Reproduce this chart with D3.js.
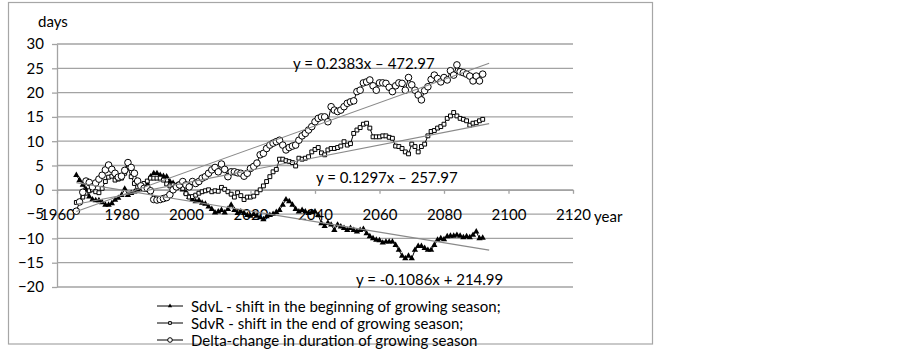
<!DOCTYPE html>
<html>
<head>
<meta charset="utf-8">
<script src="https://cdn.jsdelivr.net/npm/d3@7"></script>
<style>
  body { margin: 0; background: #fff; }
  svg { display: block; }
  text { font-family: Lato, 'Open Sans', sans-serif; font-size: 15px; fill: #000; }
</style>
</head>
<body>
<svg id="chart"></svg>
<script>
// annual values, first year 1966
const firstYear = 1966;

const sdvL = [
  3.0, 2.0, 1.0, 0.1, -1.4, -2.0, -2.2, -2.2, -2.6, -3.1,
  -3.1, -2.8, -2.1, -1.7, -1.1, 0.2, -1.1, -0.7, -0.4, 0.0,
  0.3, 0.6, 1.3, 2.7, 3.4, 3.4, 3.0, 2.8, 2.7, 1.7,
  1.4, 0.9, 0.6, 0.0, -0.6, -1.5, -2.0, -2.4, -2.2, -2.7,
  -2.9, -3.5, -4.0, -4.7, -4.5, -4.2, -4.7, -4.0, -3.1, -4.2,
  -4.8, -4.5, -4.8, -5.2, -5.4, -5.0, -5.4, -5.7, -6.1, -5.5,
  -5.2, -5.0, -4.6, -4.2, -3.1, -2.0, -2.4, -3.1, -4.0, -4.5,
  -4.2, -4.5, -4.8, -4.6, -4.5, -5.2, -6.9, -7.5, -6.8, -7.2,
  -8.3, -7.2, -7.6, -7.9, -8.3, -7.9, -8.3, -8.6, -8.3, -8.1,
  -9.0, -9.6, -10.0, -10.3, -10.4, -10.9, -10.7, -10.7, -10.7, -11.4,
  -12.4, -13.6, -14.1, -13.6, -14.1, -12.4, -11.6, -11.6, -12.0, -12.4,
  -12.4, -11.4, -10.3, -10.0, -10.2, -9.6, -9.5, -9.5, -9.3, -9.5,
  -9.8, -9.6, -9.8, -9.3, -8.6, -10.0, -9.9
];

const sdvR = [
  -2.6, -2.4, -1.5, -0.7, -0.2, 0.0, -0.4, -0.6, 0.3, 1.7,
  2.6, 2.8, 2.0, 2.2, 2.4, 3.4, 4.5, 2.7, 1.3, 0.6,
  0.6, 1.3, 1.8, 2.4, 2.4, 2.4, 2.4, 2.0, 1.2, 0.8,
  1.0, 0.6, 1.2, 0.3, -0.8, -1.5, -1.4, -1.1, -0.7, -0.4,
  -0.2, 0.0, -0.4, -0.2, -0.3, 0.5, 0.1, -0.4, -0.9, -1.5,
  -0.6, -1.2, -2.0, -1.5, -1.5, -1.3, -0.6, 0.0, 0.8, 1.7,
  2.7, 3.7, 4.2, 6.3, 6.3, 6.0, 5.8, 5.6, 4.9, 6.5,
  6.3, 6.5, 6.8, 7.8, 8.3, 8.7, 7.6, 7.2, 8.2, 8.5,
  8.5, 8.7, 9.0, 9.9, 9.2, 9.5, 11.6, 12.3, 12.8, 13.5,
  13.7, 12.7, 10.9, 10.9, 10.9, 11.1, 11.1, 10.8, 10.6, 9.0,
  8.9, 8.5, 7.8, 7.4, 9.4, 8.9, 7.8, 8.9, 9.4, 11.1,
  12.0, 12.2, 12.7, 13.0, 13.5, 14.7, 15.2, 15.9, 15.2, 14.7,
  14.5, 14.2, 13.3, 13.7, 13.8, 14.2, 14.5
];

const delta = [
  -4.4, -2.5, -0.5, 1.8, 1.5, 0.6, 1.4, 2.2, 3.0, 4.1,
  5.1, 4.2, 3.4, 2.6, 2.8, 4.0, 5.6, 4.6, 3.4, 1.8,
  0.8, 0.3, 0.3, -0.2, -2.0, -2.1, -2.0, -1.8, -1.6, -1.0,
  0.0, 0.6, 1.0, 1.7, 1.0, 0.6, 1.7, 1.3, 1.7, 2.4,
  2.7, 3.4, 4.1, 4.6, 3.7, 5.3, 4.2, 2.7, 3.7, 3.7,
  3.5, 3.4, 2.8, 3.4, 4.4, 4.8, 5.5, 7.2, 7.5, 8.5,
  9.2, 9.6, 9.9, 10.2, 9.2, 8.2, 8.7, 9.0, 9.2, 10.2,
  11.1, 11.6, 12.3, 13.0, 14.0, 14.7, 15.0, 15.0, 14.0, 17.1,
  16.4, 16.1, 16.4, 17.1, 17.8, 18.1, 18.3, 20.2, 20.5, 22.0,
  22.2, 22.6, 21.4, 20.5, 22.0, 22.0, 21.9, 21.1, 20.2, 21.4,
  22.0, 21.9, 20.5, 23.1, 21.6, 20.5, 19.5, 18.5, 20.4, 21.2,
  22.7, 23.6, 22.9, 22.2, 23.1, 22.6, 24.5, 23.6, 25.7, 24.3,
  24.1, 23.8, 23.4, 22.4, 23.4, 22.4, 23.8
];

const xTicks = [1960, 1980, 2000, 2020, 2040, 2060, 2080, 2100, 2120];
const yTicks = [-20, -15, -10, -5, 0, 5, 10, 15, 20, 25, 30];

const seriesNames = ['SdvL', 'SdvR', 'Delta'];
const legendLabels = [
  'SdvL - shift in the beginning of growing season;',
  'SdvR - shift in the end of growing season;',
  'Delta-change in duration of growing season'
];

// linear trends as printed on the chart
const trendSlopes = [-0.1086, 0.1297, 0.2383];
const trendIntercepts = [214.99, -257.97, -472.97];
const trendLabels = ['y = -0.1086x + 214.99', 'y = 0.1297x \u2013 257.97', 'y = 0.2383x \u2013 472.97'];
const trendYears = [1966, 2094];

function renderChart() {
  const W = 902, H = 350;
  const svg = d3.select('#chart').attr('width', W).attr('height', H);
  const gridColor = '#a3a3a3';

  svg.append('rect')
    .attr('x', 8.5).attr('y', 2.5)
    .attr('width', 644).attr('height', 341.5)
    .attr('fill', 'none')
    .attr('stroke', '#a6a6a6')
    .attr('stroke-width', 1.2);

  const x = d3.scaleLinear().domain([1960, 2120]).range([57, 573]);
  const y = d3.scaleLinear().domain([-20, 30]).range([287, 44]);

  // gridlines
  svg.append('g').selectAll('line')
    .data(yTicks)
    .enter().append('line')
    .attr('x1', x(1960)).attr('x2', x(2120))
    .attr('y1', d => y(d)).attr('y2', d => y(d))
    .attr('stroke', gridColor)
    .attr('stroke-width', 1.3);

  const yAxisG = svg.append('g')
    .attr('transform', `translate(${x(1960)},0)`)
    .call(d3.axisLeft(y).tickValues(yTicks).tickSize(5).tickPadding(8).tickSizeOuter(0));
  yAxisG.selectAll('path, line').attr('stroke', gridColor).attr('stroke-width', 1.3);
  yAxisG.selectAll('text').style('font-size', '15px').style('font-family', 'Lato, sans-serif').attr('fill', '#000');

  const xAxisG = svg.append('g')
    .attr('transform', `translate(0,${y(0)})`)
    .call(d3.axisBottom(x).tickValues(xTicks).tickFormat(d3.format('d')).tickSize(4).tickPadding(16).tickSizeOuter(0));
  xAxisG.selectAll('path, line').attr('stroke', gridColor).attr('stroke-width', 1.3);
  xAxisG.selectAll('text').style('font-size', '15px').style('font-family', 'Lato, sans-serif').attr('fill', '#000');

  svg.append('text').attr('x', 38).attr('y', 21).attr('dominant-baseline', 'central').text('days');
  svg.append('text').attr('x', 594).attr('y', 216).attr('dominant-baseline', 'central').text('year');

  const allSeries = [sdvL, sdvR, delta].map((vals, i) => ({
    name: seriesNames[i],
    points: vals.map((v, j) => ({ year: firstYear + j, value: v }))
  }));

  const line = d3.line().x(d => x(d.year)).y(d => y(d.value));

  function drawMarker(sel, name, k) {
    if (name === 'SdvL') {
      sel.append('path').attr('d', d3.symbol().type(d3.symbolTriangle).size(17 * k * k)).attr('fill', '#000');
    } else if (name === 'SdvR') {
      sel.append('path').attr('d', d3.symbol().type(d3.symbolSquare).size(15 * k * k))
        .attr('fill', '#fff').attr('stroke', '#000').attr('stroke-width', 1);
    } else {
      sel.append('circle').attr('r', 3.3 * k).attr('fill', '#fff').attr('stroke', '#000').attr('stroke-width', 1);
    }
  }

  allSeries.forEach(s => {
    const g = svg.append('g').attr('class', 'series-' + s.name);
    g.append('path')
      .datum(s.points)
      .attr('d', line)
      .attr('fill', 'none')
      .attr('stroke', '#000')
      .attr('stroke-width', 1);
    g.selectAll('g.pt')
      .data(s.points)
      .enter().append('g')
      .attr('class', 'pt')
      .attr('transform', d => `translate(${x(d.year)},${y(d.value)})`)
      .each(function() { drawMarker(d3.select(this), s.name, 1); });
  });

  // trend lines
  trendSlopes.forEach((m, i) => {
    const pts = trendYears.map(yr => ({ year: yr, value: m * yr + trendIntercepts[i] }));
    svg.append('path')
      .datum(pts)
      .attr('d', line)
      .attr('fill', 'none')
      .attr('stroke', '#8a8a8a')
      .attr('stroke-width', 1.1);
  });

  const labelPos = [[356, 279], [316, 177], [293, 63]];
  trendLabels.forEach((t, i) => {
    svg.append('text')
      .attr('x', labelPos[i][0]).attr('y', labelPos[i][1])
      .attr('dominant-baseline', 'central')
      .text(t);
  });

  // legend
  const legend = svg.append('g').attr('transform', 'translate(157,0)');
  const rowY = [306, 323, 340];
  legendLabels.forEach((lbl, i) => {
    const row = legend.append('g').attr('transform', `translate(0,${rowY[i]})`);
    row.append('line').attr('x1', 0).attr('x2', 26).attr('stroke', '#000').attr('stroke-width', 1);
    drawMarker(row.append('g').attr('transform', 'translate(13,0)'), seriesNames[i], 0.7);
    row.append('text').attr('x', 34).attr('dominant-baseline', 'central').text(lbl);
  });
}

renderChart();
</script>
</body>
</html>
